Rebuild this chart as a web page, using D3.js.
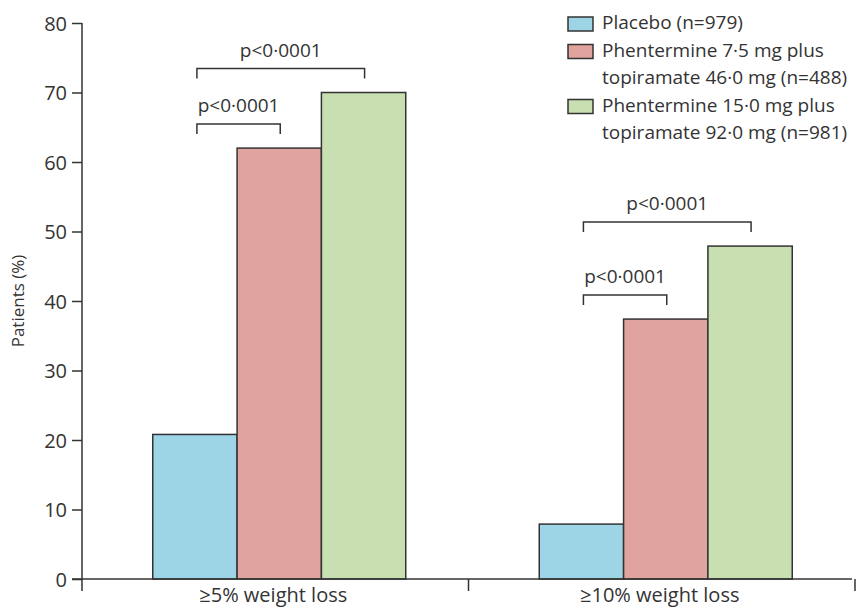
<!DOCTYPE html>
<html lang="en">
<head>
<meta charset="UTF-8">
<title>Weight loss</title>
<script src="https://d3js.org/d3.v7.min.js"></script>
<style>
    html, body { margin: 0; background: #fff; overflow: hidden; }
    svg { display: block; }
    text { font-family: "Open Sans", sans-serif; fill: #333; }
</style>
</head>
<body>
<svg id="svg"></svg>
<script>
    // data
    const categories = ['≥5% weight loss', '≥10% weight loss'];
    const series = ['Placebo (n=979)',
        'Phentermine 7·5 mg plus|topiramate 46·0 mg (n=488)',
        'Phentermine 15·0 mg plus|topiramate 92·0 mg (n=981)'];
    const placebo = [20.8, 7.9];
    const lowDose = [62, 37.4];
    const highDose = [70, 47.9];
    const yTicks = [0, 10, 20, 30, 40, 50, 60, 70, 80];
    const comparisons = [
        { cat: 0, from: 0, to: 1, label: 'p<0·0001' },
        { cat: 0, from: 0, to: 2, label: 'p<0·0001' },
        { cat: 1, from: 0, to: 1, label: 'p<0·0001' },
        { cat: 1, from: 0, to: 2, label: 'p<0·0001' }
    ];
    const colors = ['#9dd4e6', '#e0a39e', '#c8dfb1'];

    const width = 859, height = 612;
    const svg = d3.select('#svg').attr('width', width).attr('height', height);
    const margin = { top: 23, left: 82, bottom: 33, right: 4 };
    const innerWidth = width - margin.left - margin.right;
    const innerHeight = height - margin.top - margin.bottom;
    const g = svg.append('g').attr('transform', `translate(${margin.left}, ${margin.top})`);

    const values = [placebo, lowDose, highDose];
    const data = categories.map((c, i) => ({ cat: c, vals: values.map(v => v[i]) }));

    const x0 = d3.scaleBand().domain(d3.range(categories.length)).range([0, innerWidth]);
    const x1 = d3.scaleBand().domain(d3.range(series.length)).range([0, 253]);
    const offset = (x0.bandwidth() - x1.range()[1]) / 2 + 4;
    const y = d3.scaleLinear().domain([0, 80]).range([innerHeight, 0]);

    // bars
    const groups = g.selectAll('.grp').data(data).join('g')
        .attr('class', 'grp')
        .attr('transform', (d, i) => `translate(${x0(i) + offset}, 0)`);
    groups.selectAll('rect').data(d => d.vals).join('rect')
        .attr('x', (d, i) => x1(i))
        .attr('y', d => y(d))
        .attr('width', x1.bandwidth())
        .attr('height', d => innerHeight - y(d))
        .attr('fill', (d, i) => colors[i])
        .attr('stroke', '#333')
        .attr('stroke-width', 1.5);

    // y axis
    const yAxis = g.append('g').call(d3.axisLeft(y).tickValues(yTicks).tickSize(10).tickPadding(5));
    yAxis.select('.domain').attr('d', `M0,0V${innerHeight + 12}`).attr('stroke', '#333').attr('stroke-width', 1.5);
    yAxis.selectAll('.tick line').attr('stroke', '#333').attr('stroke-width', 1.5);
    yAxis.selectAll('.tick text').style('font-size', '20px').attr('fill', '#333').attr('dy', '0.35em');

    // x axis
    const xAxis = g.append('g').attr('transform', `translate(0, ${innerHeight})`);
    xAxis.append('line').attr('x1', -10).attr('x2', innerWidth - 3).attr('stroke', '#333').attr('stroke-width', 1.5);
    xAxis.selectAll('.sep').data(d3.range(1, categories.length + 1)).join('line')
        .attr('class', 'sep')
        .attr('x1', d => x0(d - 1) + x0.bandwidth()).attr('x2', d => x0(d - 1) + x0.bandwidth())
        .attr('y1', 0).attr('y2', 12)
        .attr('stroke', '#333').attr('stroke-width', 1.5);
    xAxis.selectAll('.lab').data(categories).join('text')
        .attr('class', 'lab')
        .attr('x', (d, i) => x0(i) + x0.bandwidth() / 2 - 2)
        .attr('y', 23)
        .attr('text-anchor', 'middle')
        .style('font-size', '20px')
        .text(d => d);

    // y label
    g.append('text')
        .attr('transform', `translate(-58, ${innerHeight / 2}) rotate(-90)`)
        .attr('text-anchor', 'middle')
        .style('font-size', '17px')
        .text('Patients (%)');

    // significance brackets
    const br = g.selectAll('.br').data(comparisons).join('g').attr('class', 'br');
    br.each(function (d) {
        const vals = data[d.cat].vals;
        const top = y(d3.max(vals.slice(d.from, d.to + 1))) - 24;
        const xa = x0(d.cat) + offset + x1(d.from) + x1.bandwidth() / 2 + 2;
        const xb = x0(d.cat) + offset + x1(d.to) + x1.bandwidth() / 2 + 1;
        const sel = d3.select(this);
        sel.append('path')
            .attr('d', `M${xa},${top + 10}V${top}H${xb}V${top + 10}`)
            .attr('fill', 'none').attr('stroke', '#333').attr('stroke-width', 1.5);
        sel.append('text')
            .attr('x', (xa + xb) / 2).attr('y', top - 12)
            .attr('text-anchor', 'middle')
            .style('font-size', '19px')
            .text(d.label);
    });

    // legend
    const legend = svg.append('g').attr('transform', 'translate(568, 16)');
    let row = 0;
    series.forEach((s, i) => {
        const lines = s.split('|');
        const ly = row * 27.5;
        legend.append('rect')
            .attr('x', 0).attr('y', ly + 1).attr('width', 25).attr('height', 14)
            .attr('fill', colors[i]).attr('stroke', '#333').attr('stroke-width', 1.5);
        lines.forEach((t, j) => {
            legend.append('text')
                .attr('x', 34).attr('y', ly + 13 + j * 27.5)
                .style('font-size', '19px')
                .text(t);
        });
        row += lines.length;
    });
</script>
</body>
</html>
